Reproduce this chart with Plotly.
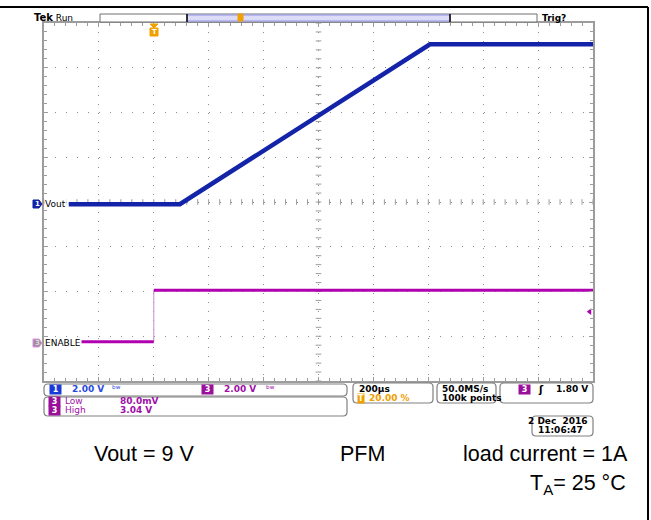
import numpy as np
import plotly.graph_objects as go

W, H = 651, 520

# time base: 200 us/div, trigger at 20 %
t_range = [-400, 1600]

# CH1 Vout (2 V/div), key points
vout_t = [-310, 95, 1006, 1600]
vout_v = [0.0, 0.0, 7.15, 7.15]
vout_offset = -0.05  # divisions, ground marker

# CH3 ENABLE (2 V/div)
enable_t = [-269, 0, 0, 1600]
enable_v = [0.05, 0.05, 2.36, 2.36]
enable_offset = -3.15

volts_per_div = 2.0

BLUE = "#1424a8"
MAG = "#b000b0"
GREY = "#9c9c9c"
ORANGE = "#f0a000"


def px(x):
    return x / W


def py(y):
    return 1 - y / H


def to_div(v, off):
    return [None if a is None else a / volts_per_div + off for a in v]


def rrect(x0, y0, x1, y1, r=4):
    pts = [
        ("M", x0 + r, y0), ("L", x1 - r, y0), ("Q", x1, y0, x1, y0 + r),
        ("L", x1, y1 - r), ("Q", x1, y1, x1 - r, y1), ("L", x0 + r, y1),
        ("Q", x0, y1, x0, y1 - r), ("L", x0, y0 + r), ("Q", x0, y0, x0 + r, y0),
    ]
    s = ""
    for p in pts:
        cmd = p[0]
        coords = p[1:]
        parts = []
        for i in range(0, len(coords), 2):
            parts.append("%.5f,%.5f" % (px(coords[i]), py(coords[i + 1])))
        s += cmd + " " + " ".join(parts) + " "
    return s + "Z"


fig = go.Figure()

# graticule centre-line ticks
cx = np.arange(t_range[0], t_range[1] + 1, 40)
fig.add_trace(go.Scatter(x=cx, y=[0] * len(cx), mode="markers",
                         marker=dict(symbol="line-ns-open", size=4, color=GREY, line=dict(width=1, color=GREY)),
                         hoverinfo="skip", showlegend=False))
cy = np.arange(-4, 4.01, 0.2)
fig.add_trace(go.Scatter(x=[600] * len(cy), y=cy, mode="markers",
                         marker=dict(symbol="line-ew-open", size=4, color=GREY, line=dict(width=1, color=GREY)),
                         hoverinfo="skip", showlegend=False))

# ENABLE edge (thin) and levels (thick)
fig.add_trace(go.Scatter(x=enable_t[1:3], y=to_div(enable_v[1:3], enable_offset), mode="lines",
                         line=dict(color="#c890c8", width=1), showlegend=False))
fig.add_trace(go.Scatter(x=enable_t[:2], y=to_div(enable_v[:2], enable_offset), mode="lines",
                         line=dict(color=MAG, width=3), showlegend=False))
fig.add_trace(go.Scatter(x=enable_t[2:], y=to_div(enable_v[2:], enable_offset), mode="lines",
                         line=dict(color=MAG, width=3), showlegend=False))

# Vout
fig.add_trace(go.Scatter(x=vout_t, y=to_div(vout_v, vout_offset), mode="lines",
                         line=dict(color=BLUE, width=4.5), showlegend=False))

# trigger level marker (right side)
fig.add_trace(go.Scatter(x=[1588], y=[-2.45], mode="markers",
                         marker=dict(symbol="triangle-left", size=6, color=MAG), showlegend=False))

shapes = []
# outer frame
shapes.append(dict(type="line", xref="paper", yref="paper", x0=0, x1=px(648), y0=py(7), y1=py(7),
                   line=dict(color="black", width=2)))
shapes.append(dict(type="line", xref="paper", yref="paper", x0=px(648), x1=px(648), y0=py(7), y1=0,
                   line=dict(color="black", width=2)))

# record bar
shapes.append(dict(type="rect", xref="paper", yref="paper", x0=px(100), x1=px(537), y0=py(22), y1=py(14),
                   line=dict(color="#707070", width=1), fillcolor="white"))
shapes.append(dict(type="rect", xref="paper", yref="paper", x0=px(187), x1=px(450), y0=py(21), y1=py(15),
                   line=dict(color="#9090e8", width=1), fillcolor="#dcdcf8"))
for xx in (187, 450):
    shapes.append(dict(type="line", xref="paper", yref="paper", x0=px(xx), x1=px(xx), y0=py(22), y1=py(14),
                       line=dict(color="black", width=1.5)))

# info boxes
for b in [(44, 384, 347, 396), (44, 397, 347, 416), (353, 383, 433, 403), (437, 383, 496, 403),
          (500, 383, 593, 403), (532, 416, 593, 436)]:
    shapes.append(dict(type="path", xref="paper", yref="paper", path=rrect(*b),
                       line=dict(color="#808080", width=1.2), fillcolor="white"))

# channel tags and trigger marker
shapes.append(dict(type="path", xref="paper", yref="paper",
                   path="M %f,%f L %f,%f L %f,%f L %f,%f L %f,%f Z" % (
                       px(33), py(200), px(39), py(200), px(42), py(204), px(39), py(208), px(33), py(208)),
                   line=dict(color=BLUE, width=1), fillcolor=BLUE))
shapes.append(dict(type="path", xref="paper", yref="paper",
                   path="M %f,%f L %f,%f L %f,%f L %f,%f L %f,%f Z" % (
                       px(33), py(339), px(39), py(339), px(42), py(343), px(39), py(347), px(33), py(347)),
                   line=dict(color="#e090e0", width=1), fillcolor="#a08ca0"))
shapes.append(dict(type="path", xref="paper", yref="paper",
                   path="M %f,%f L %f,%f L %f,%f Z" % (px(150), py(24), px(158), py(24), px(154), py(28)),
                   line=dict(color=ORANGE, width=1), fillcolor=ORANGE))
shapes.append(dict(type="rect", xref="paper", yref="paper", x0=px(150), x1=px(158), y0=py(36), y1=py(28),
                   line=dict(color=ORANGE, width=1), fillcolor=ORANGE))
shapes.append(dict(type="rect", xref="paper", yref="paper", x0=px(238), x1=px(243), y0=py(21), y1=py(14),
                   line=dict(color=ORANGE, width=1), fillcolor=ORANGE))

fig.update_layout(shapes=shapes)

ann = []


def text(x, y, s, size=9, color="black", anchor="left", family="DejaVu Sans", bg=None, bold=False):
    if bold:
        s = "<b>" + s + "</b>"
    d = dict(x=px(x), y=py(y), xref="paper", yref="paper", text=s, showarrow=False,
             xanchor=anchor, yanchor="middle", font=dict(size=size, color=color, family=family))
    if bg:
        d["bgcolor"] = bg
        d["borderpad"] = 0
    ann.append(d)


def pill(x, y, s, color):
    ann.append(dict(x=px(x), y=py(y), xref="paper", yref="paper", text="<b>" + s + "</b>", showarrow=False,
                    xanchor="center", yanchor="middle", bgcolor=color, borderpad=0,
                    font=dict(size=8, color="white", family="DejaVu Sans")))


text(32, 18, "<b><span style='font-size:10px'>Tek</span></b> Run", size=9)
text(540, 18, "Trig?", size=9, bold=True)
text(154, 32, "T", size=7, color="white", anchor="center", bold=True)
text(37, 204, "1", size=7, color="white", anchor="center", bold=True)
text(37, 343, "3", size=7, color="#d8d8d8", anchor="center", bold=True)
text(44, 204, "Vout", size=9, bg="white")
text(44, 343, "ENABLE", size=9, bg="white")

# ch scales
pill(55, 389, "&nbsp;1&nbsp;", "#1a3ad8")
text(70, 389, "2.00 V", color="#2a4ae0", bold=True)
text(110, 389, "ᵇʷ", color="#2a4ae0", size=9)
pill(207, 389, "&nbsp;3&nbsp;", "#9a109a")
text(222, 389, "2.00 V", color="#a010a8", bold=True)
text(264, 389, "ᵇʷ", color="#a010a8", size=9)
# measurements
pill(54, 401, "&nbsp;3&nbsp;", "#9a109a")
text(63, 401, "Low", color="#a010a8")
text(118, 401, "80.0mV", color="#a010a8", bold=True)
pill(54, 410, "&nbsp;3&nbsp;", "#9a109a")
text(63, 410, "High", color="#a010a8")
text(118, 410, "3.04 V", color="#a010a8", bold=True)
# timebase
text(357, 389, "200µs", bold=True)
pill(361, 398, "T", ORANGE)
text(367, 398, "20.00 %", color=ORANGE, bold=True)
text(440, 389, "50.0MS/s", bold=True)
text(440, 398, "100k points", bold=True)
pill(524, 389, "&nbsp;3&nbsp;", "#9a109a")
text(541, 389, "ʃ", size=10, anchor="center", bold=True)
text(590, 389, "1.80 V", anchor="right", bold=True)
text(590, 421, "2 Dec  2016", anchor="right", bold=True)
text(536, 430, "11:06:47", bold=True)

# captions
cap = "Liberation Sans"
text(144, 454, "Vout = 9 V", size=21.5, anchor="center", family=cap)
text(362, 454, "PFM", size=21.5, anchor="center", family=cap)
text(545, 454, "load current = 1A", size=21.5, anchor="center", family=cap)
text(578, 484, "T<sub>A</sub>= 25 °C", size=21.5, anchor="center", family=cap)

fig.update_layout(
    annotations=ann,
    width=W, height=H,
    margin=dict(l=0, r=0, t=0, b=0),
    paper_bgcolor="white", plot_bgcolor="white",
    showlegend=False,
    xaxis=dict(domain=[px(44), px(593)], range=t_range, dtick=200, showticklabels=False,
               showgrid=True, gridcolor="#8c8c8c", gridwidth=1, griddash="1px,8px", zeroline=False,
               showline=True, linecolor=GREY, linewidth=2, mirror="ticks",
               ticks="inside", ticklen=4, tickcolor=GREY,
               minor=dict(dtick=40, ticks="inside", ticklen=3, tickcolor=GREY, showgrid=False)),
    yaxis=dict(domain=[py(381), py(23)], range=[-4, 4], dtick=1, showticklabels=False,
               showgrid=True, gridcolor="#8c8c8c", gridwidth=1, griddash="1px,10px", zeroline=False,
               showline=True, linecolor=GREY, linewidth=2, mirror="ticks",
               ticks="inside", ticklen=4, tickcolor=GREY,
               minor=dict(dtick=0.2, ticks="inside", ticklen=3, tickcolor=GREY, showgrid=False)),
)

fig.write_html("out.html", config={"displayModeBar": False},
               post_script="document.body.style.margin='0';")
